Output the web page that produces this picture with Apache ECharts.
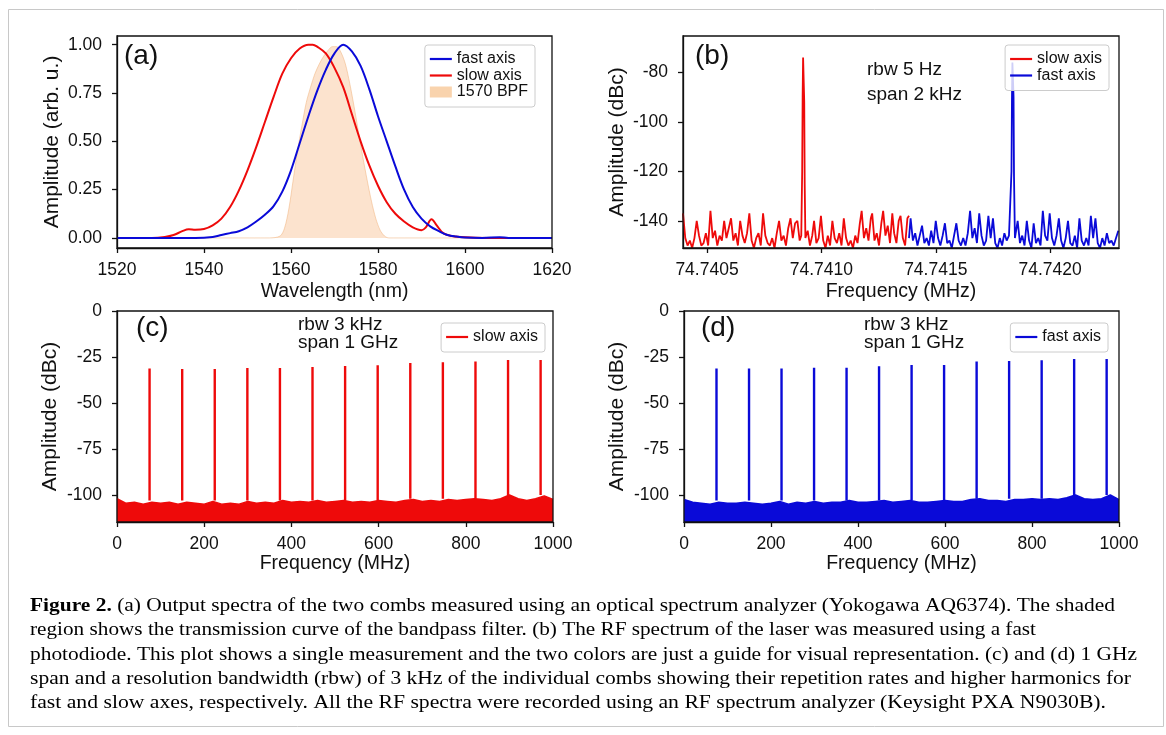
<!DOCTYPE html>
<html><head><meta charset="utf-8">
<script src="https://cdn.jsdelivr.net/npm/echarts@6/dist/echarts.min.js"></script>
<style>html,body{margin:0;padding:0;background:#fff}#c{width:1166px;height:735px}</style>
</head><body><div id="c"></div>
<script>
// ---------- (a) optical spectra: [wavelength nm, amplitude] ----------
const aFast = [[1520,0],[1530,0],[1538,0],[1542,0.005],[1544,0.015],[1546,0.025],[1548,0.035],[1550,0.055],[1552,0.085],[1554,0.12],[1556,0.165],[1558,0.24],[1560,0.35],[1562,0.49],[1564,0.63],[1566,0.76],[1568,0.87],[1570,0.955],[1572,1.0],[1574,0.965],[1576,0.89],[1578,0.77],[1580,0.63],[1582,0.5],[1584,0.37],[1586,0.25],[1588,0.16],[1590,0.1],[1592,0.06],[1594,0.035],[1596,0.015],[1598,0.007],[1600,0.002],[1604,0],[1608,0.004],[1610,0],[1620,0]];
const aSlow = [[1520,0],[1528,0],[1531,0.005],[1533,0.015],[1535,0.035],[1536.5,0.045],[1538,0.042],[1540,0.046],[1542,0.065],[1544,0.1],[1546,0.16],[1548,0.245],[1550,0.35],[1552,0.47],[1554,0.6],[1556,0.73],[1558,0.85],[1560,0.93],[1562,0.98],[1564,1.0],[1565,1.0],[1566,0.99],[1568,0.955],[1570,0.88],[1572,0.78],[1574,0.64],[1576,0.5],[1578,0.375],[1580,0.27],[1582,0.185],[1584,0.125],[1586,0.085],[1588,0.055],[1590,0.04],[1591,0.055],[1592.3,0.097],[1593.5,0.065],[1595,0.025],[1597,0.01],[1600,0.003],[1605,0],[1620,0]];
const aBpf = [[1520,0],[1555,0],[1557.5,0.01],[1558.5,0.05],[1559.5,0.15],[1560.5,0.3],[1561.5,0.45],[1562.5,0.58],[1563.5,0.7],[1564.5,0.78],[1565.5,0.85],[1566.5,0.9],[1567.5,0.94],[1568.5,0.97],[1569.5,0.99],[1570.5,0.99],[1571.5,0.96],[1572.5,0.9],[1573.5,0.8],[1574.5,0.68],[1575.5,0.55],[1576.5,0.42],[1577.5,0.3],[1578.5,0.19],[1579.5,0.1],[1580.5,0.04],[1581.5,0.01],[1582.5,0],[1620,0]];
const aYTicks = [0, 0.25, 0.5, 0.75, 1.0];

// ---------- (b) RF beat: [Hz above 74.7400 MHz, dBc] ----------
const bBaseMHz = 74.74;
const bXTicksHz = [500, 1000, 1500, 2000];
const bYTicks = [-140, -120, -100, -80];
const bSlow = [[395,-137],[405,-147],[415,-150],[425,-148],[435,-151],[445,-147],[455,-140],[465,-146],[475,-150],[485,-149],[495,-145],[505,-150],[515,-136],[525,-147],[535,-144],[545,-150],[555,-146],[565,-148],[575,-140],[585,-147],[595,-143],[605,-139],[615,-148],[625,-145],[635,-150],[645,-140],[655,-146],[665,-149],[675,-145],[685,-137],[695,-148],[705,-151],[715,-147],[725,-145],[735,-150],[745,-137],[755,-146],[765,-149],[775,-150],[785,-147],[795,-151],[805,-145],[815,-140],[825,-148],[835,-146],[845,-150],[855,-143],[865,-139],[875,-147],[885,-141],[895,-140],[905,-148],[912,-146],[916,-120],[918,-90],[920,-74],[923,-74],[925,-92],[927,-125],[930,-147],[940,-144],[950,-150],[960,-146],[968,-140],[978,-149],[988,-147],[998,-138],[1008,-148],[1018,-151],[1028,-146],[1038,-150],[1048,-140],[1058,-147],[1068,-149],[1078,-145],[1088,-150],[1098,-139],[1108,-147],[1118,-150],[1128,-148],[1138,-151],[1148,-146],[1158,-149],[1168,-141],[1176,-136],[1186,-147],[1196,-143],[1206,-148],[1216,-139],[1222,-137],[1232,-148],[1242,-145],[1252,-150],[1262,-141],[1270,-136],[1280,-146],[1290,-142],[1300,-149],[1310,-137],[1318,-145],[1328,-149],[1338,-140],[1346,-138],[1356,-147],[1366,-150],[1376,-139],[1383,-138]];
const bFast = [[1383,-147],[1390,-139],[1400,-148],[1410,-145],[1420,-150],[1430,-146],[1440,-142],[1450,-149],[1460,-147],[1470,-150],[1480,-144],[1490,-149],[1500,-140],[1510,-147],[1520,-150],[1530,-146],[1540,-141],[1550,-149],[1560,-148],[1570,-151],[1580,-146],[1590,-141],[1600,-148],[1610,-150],[1620,-147],[1630,-150],[1640,-145],[1650,-136],[1660,-147],[1670,-143],[1680,-149],[1690,-137],[1700,-146],[1710,-150],[1720,-148],[1730,-138],[1740,-147],[1750,-139],[1760,-149],[1770,-151],[1780,-147],[1790,-150],[1800,-145],[1810,-148],[1820,-146],[1826,-146],[1831,-120],[1833,-92],[1835,-76],[1838,-76],[1840,-90],[1842,-122],[1846,-147],[1850,-147],[1858,-140],[1868,-149],[1878,-146],[1888,-150],[1898,-140],[1908,-148],[1918,-151],[1928,-141],[1938,-149],[1948,-147],[1958,-150],[1968,-136],[1978,-146],[1988,-148],[1998,-137],[2008,-147],[2018,-150],[2028,-146],[2038,-139],[2048,-148],[2058,-151],[2068,-147],[2078,-140],[2088,-149],[2098,-150],[2108,-146],[2118,-151],[2128,-139],[2138,-148],[2148,-150],[2158,-147],[2168,-150],[2178,-138],[2188,-147],[2198,-139],[2208,-149],[2218,-151],[2228,-147],[2238,-150],[2248,-145],[2258,-149],[2268,-148],[2278,-150],[2288,-147],[2298,-144]];

// ---------- (c),(d) 1 GHz span: noise envelope [MHz, dBc], comb lines [MHz, floor dBc, top dBc] ----------
const cdYTicks = [-100, -75, -50, -25, 0];
const cNoise = [[0,-102],[20,-104.5],[40,-104],[60,-105],[80,-104],[100,-104.5],[120,-104],[140,-105],[160,-104],[180,-104.5],[200,-105],[220,-103.5],[240,-105],[260,-104.5],[280,-105],[300,-103.5],[320,-104.5],[340,-104],[360,-104.5],[380,-103],[400,-104],[420,-103.5],[440,-104],[460,-103],[480,-104],[500,-103.5],[520,-103],[540,-104],[560,-103.5],[580,-104],[600,-103],[620,-103.5],[640,-104],[660,-103],[680,-102.5],[700,-103.5],[720,-103],[740,-103.5],[760,-102.5],[780,-103],[800,-102.5],[820,-102],[840,-102.5],[860,-103],[880,-102],[900,-100],[920,-102],[940,-103],[960,-102],[980,-100.5],[1000,-102.5]];
const dNoise = [[0,-102.5],[20,-104],[40,-104.5],[60,-105],[80,-104],[100,-104.5],[120,-104.5],[140,-104],[160,-104.5],[180,-105],[200,-104.5],[220,-103.5],[240,-105],[260,-104],[280,-104.5],[300,-103.5],[320,-104.5],[340,-104],[360,-104],[380,-103],[400,-104],[420,-104],[440,-103.5],[460,-103],[480,-104],[500,-103.5],[520,-103],[540,-104],[560,-104],[580,-103.5],[600,-103],[620,-103.5],[640,-103.5],[660,-102.5],[680,-102],[700,-103],[720,-103],[740,-103.5],[760,-102.5],[780,-102.5],[800,-102],[820,-102.5],[840,-102],[860,-102.5],[880,-101.5],[900,-100],[920,-102],[940,-102.5],[960,-102],[980,-100],[1000,-102.5]];
const cLines = [[74.7,-103,-31.2],[149.5,-103,-31.5],[224.2,-103,-31.5],[299.0,-103,-31.0],[373.7,-103,-31.0],[448.4,-103,-30.4],[523.2,-103,-29.9],[597.9,-103,-29.5],[672.7,-102,-28.2],[747.4,-102,-27.8],[822.2,-102,-27.4],[896.9,-100,-26.6],[971.6,-100,-26.6]];
const dLines = [[74.7,-103,-31.2],[149.5,-103,-31.3],[224.2,-103,-31.3],[299.0,-103,-30.8],[373.7,-103,-30.8],[448.4,-103,-30.1],[523.2,-103,-29.3],[597.9,-103,-29.3],[672.7,-102,-27.5],[747.4,-102,-27.2],[822.2,-102,-26.8],[896.9,-100,-26.1],[971.6,-100,-26.1]];

const RED = '#ee0a0a', BLUE = '#0a0ad8', INK = '#111';
const FONT = '"Liberation Sans", Arial, sans-serif';
const LINE_ICON = 'path://M0,0L22,0L22,2.2L0,2.2Z';

// vertical comb-line segments, separated by gaps
function combSegments(lines) {
  const pts = [];
  lines.forEach(l => { pts.push([l[0], l[1]], [l[0], l[2]], [l[0], '-']); });
  return pts;
}

const plain = v => String(v);
const tickStyle = { show: true, length: 5, inside: false, lineStyle: { color: INK, width: 1.3 } };
const lblStyle = { color: INK, fontSize: 17.5, fontFamily: FONT };
function xAxis(gi, o) {
  return Object.assign({ gridIndex: gi, type: 'value', splitLine: { show: false },
    axisLine: { show: true, onZero: false, lineStyle: { color: INK, width: 1.3 } },
    axisTick: Object.assign({}, tickStyle), nameLocation: 'middle',
    nameTextStyle: { color: INK, fontSize: 19.5, fontFamily: FONT } }, o);
}
function yAxis(gi, o) {
  return Object.assign({ gridIndex: gi, type: 'value', splitLine: { show: false },
    axisLine: { show: true, onZero: false, lineStyle: { color: INK, width: 1.3 } },
    axisTick: Object.assign({}, tickStyle), nameLocation: 'middle', nameRotate: 90,
    nameTextStyle: { color: INK, fontSize: 21, fontFamily: FONT } }, o);
}
const legendBase = { orient: 'vertical', selectedMode: false, itemWidth: 22, itemHeight: 11, itemGap: 0.5,
  padding: [6, 7, 7, 5], backgroundColor: 'rgba(255,255,255,0.8)', borderColor: '#cccccc', borderWidth: 1, borderRadius: 3,
  textStyle: { color: INK, fontSize: 16, fontFamily: FONT, lineHeight: 15 } };

// caption
const capLines = [
  ['Figure 2.', ' (a) Output spectra of the two combs measured using an optical spectrum analyzer (Yokogawa AQ6374). The shaded', 1115],
  ['', 'region shows the transmission curve of the bandpass filter. (b) The RF spectrum of the laser was measured using a fast', 1036],
  ['', 'photodiode. This plot shows a single measurement and the two colors are just a guide for visual representation. (c) and (d) 1 GHz', 1137],
  ['', 'span and a resolution bandwidth (rbw) of 3 kHz of the individual combs showing their repetition rates and higher harmonics for', 1131],
  ['', 'fast and slow axes, respectively. All the RF spectra were recorded using an RF spectrum analyzer (Keysight PXA N9030B).', 1106]
];
const CAP_FONT = '"Liberation Serif", "DejaVu Serif", serif';
const CAP_SIZE = 19.5, CAP_X = 30, CAP_Y0 = 606, CAP_PITCH = 24.3;
const ctx = document.createElement('canvas').getContext('2d');
function measure(t, bold) { ctx.font = (bold ? 'bold ' : '') + CAP_SIZE + 'px ' + CAP_FONT; return ctx.measureText(t).width; }
const capGraphics = capLines.map((l, i) => {
  const w = measure(l[0], true) + measure(l[1], false);
  return { type: 'text', x: CAP_X, y: CAP_Y0 + i * CAP_PITCH, scaleX: (l[2] - CAP_X) / w,
    style: { text: (l[0] ? '{b|' + l[0] + '}' : '') + l[1], fill: '#000', fontSize: CAP_SIZE, fontFamily: CAP_FONT,
      verticalAlign: 'middle', align: 'left', rich: { b: { fontWeight: 'bold', fontSize: CAP_SIZE, fontFamily: CAP_FONT } } } };
});

function txt(x, y, t, size, lh) {
  return { type: 'text', x: x, y: y, z: 50, style: { text: t, fill: INK, fontSize: size, fontFamily: FONT,
    lineHeight: lh || size, verticalAlign: 'middle', align: 'left' } };
}

const chart = echarts.init(document.getElementById('c'), null, { renderer: 'canvas' });
chart.setOption({
  animation: false,
  backgroundColor: '#fff',
  grid: [
    { left: 117, top: 36, width: 435, height: 212 },
    { left: 683, top: 36, width: 436, height: 212 },
    { left: 117, top: 311, width: 436, height: 211 },
    { left: 684, top: 311, width: 435, height: 211 }
  ].map(g => Object.assign({ show: true, borderColor: INK, borderWidth: 1.3, backgroundColor: 'transparent', z: 10 }, g)),
  xAxis: [
    xAxis(0, { min: 1520, max: 1620, interval: 20, name: 'Wavelength (nm)', nameGap: 34, axisLabel: Object.assign({ margin: 13, formatter: plain }, lblStyle) }),
    xAxis(1, { min: 395, max: 2301, name: 'Frequency (MHz)', nameGap: 34,
      axisLabel: Object.assign({ margin: 13, customValues: bXTicksHz, formatter: v => (bBaseMHz + v / 1e6).toFixed(4) }, lblStyle),
      axisTick: Object.assign({ customValues: bXTicksHz }, tickStyle) }),
    xAxis(2, { min: 0, max: 1000, interval: 200, name: 'Frequency (MHz)', nameGap: 31, axisLabel: Object.assign({ margin: 13, formatter: plain }, lblStyle) }),
    xAxis(3, { min: 0, max: 1000, interval: 200, name: 'Frequency (MHz)', nameGap: 31, axisLabel: Object.assign({ margin: 13, formatter: plain }, lblStyle) })
  ],
  yAxis: [
    yAxis(0, { min: -0.052, max: 1.045, name: 'Amplitude (arb. u.)', nameGap: 54,
      axisLabel: Object.assign({ margin: 15, customValues: aYTicks, formatter: v => v.toFixed(2) }, lblStyle),
      axisTick: Object.assign({ customValues: aYTicks }, tickStyle) }),
    yAxis(1, { min: -151, max: -65.3, name: 'Amplitude (dBc)', nameGap: 55,
      axisLabel: Object.assign({ margin: 15, customValues: bYTicks, formatter: plain }, lblStyle),
      axisTick: Object.assign({ customValues: bYTicks }, tickStyle) }),
    yAxis(2, { min: -114.7, max: 0, name: 'Amplitude (dBc)', nameGap: 56,
      axisLabel: Object.assign({ margin: 15, customValues: cdYTicks, formatter: plain }, lblStyle),
      axisTick: Object.assign({ customValues: cdYTicks }, tickStyle) }),
    yAxis(3, { min: -114.7, max: 0, name: 'Amplitude (dBc)', nameGap: 56,
      axisLabel: Object.assign({ margin: 15, customValues: cdYTicks, formatter: plain }, lblStyle),
      axisTick: Object.assign({ customValues: cdYTicks }, tickStyle) })
  ],
  legend: [
    Object.assign({}, legendBase, { right: 1166 - 535, top: 45,
      data: [{ name: 'fast axis', icon: LINE_ICON }, { name: 'slow axis', icon: LINE_ICON }, { name: '1570 BPF', icon: 'rect' }] }),
    Object.assign({}, legendBase, { right: 1166 - 1109, top: 45,
      data: [{ name: 'slow axis', icon: LINE_ICON }, { name: 'fast axis', icon: LINE_ICON }] }),
    Object.assign({}, legendBase, { right: 1166 - 545, top: 323, data: [{ name: 'slow axis', icon: LINE_ICON }] }),
    Object.assign({}, legendBase, { right: 1166 - 1108, top: 323, data: [{ name: 'fast axis', icon: LINE_ICON }] })
  ],
  series: [
    { name: '1570 BPF', type: 'line', xAxisIndex: 0, yAxisIndex: 0, data: aBpf, symbol: 'none', smooth: 0.3, z: 1,
      itemStyle: { color: '#f9d3ad' }, lineStyle: { color: 'rgba(240,175,120,0.5)', width: 1 },
      areaStyle: { color: 'rgba(246,183,128,0.55)', origin: 'auto' } },
    { name: 'fast axis', type: 'line', xAxisIndex: 0, yAxisIndex: 0, data: aFast, symbol: 'none', smooth: 0.35, z: 3,
      itemStyle: { color: BLUE }, lineStyle: { color: BLUE, width: 2 } },
    { name: 'slow axis', type: 'line', xAxisIndex: 0, yAxisIndex: 0, data: aSlow, symbol: 'none', smooth: 0.35, z: 2,
      itemStyle: { color: RED }, lineStyle: { color: RED, width: 2 } },
    { name: 'slow axis', type: 'line', xAxisIndex: 1, yAxisIndex: 1, data: bSlow, symbol: 'none',
      itemStyle: { color: RED }, lineStyle: { color: RED, width: 1.8 } },
    { name: 'fast axis', type: 'line', xAxisIndex: 1, yAxisIndex: 1, data: bFast, symbol: 'none',
      itemStyle: { color: BLUE }, lineStyle: { color: BLUE, width: 1.8 } },
    { name: 'slow axis', type: 'line', xAxisIndex: 2, yAxisIndex: 2, data: cNoise, symbol: 'none',
      itemStyle: { color: RED }, lineStyle: { color: RED, width: 1.5 }, areaStyle: { color: RED, opacity: 1, origin: 'start' } },
    { name: 'slow axis', type: 'line', xAxisIndex: 2, yAxisIndex: 2, data: combSegments(cLines), symbol: 'none', connectNulls: false,
      itemStyle: { color: RED }, lineStyle: { color: RED, width: 2.4 } },
    { name: 'fast axis', type: 'line', xAxisIndex: 3, yAxisIndex: 3, data: dNoise, symbol: 'none',
      itemStyle: { color: BLUE }, lineStyle: { color: BLUE, width: 1.5 }, areaStyle: { color: BLUE, opacity: 1, origin: 'start' } },
    { name: 'fast axis', type: 'line', xAxisIndex: 3, yAxisIndex: 3, data: combSegments(dLines), symbol: 'none', connectNulls: false,
      itemStyle: { color: BLUE }, lineStyle: { color: BLUE, width: 2.4 } }
  ],
  graphic: [
    { type: 'rect', shape: { x: 8.5, y: 9.5, width: 1155, height: 717 }, style: { fill: 'none', stroke: '#c8c8c8', lineWidth: 1 }, z: 0 },
    txt(124, 56, '(a)', 28), txt(695, 56, '(b)', 28), txt(136, 328, '(c)', 28), txt(701, 328, '(d)', 28),
    txt(867, 82.5, 'rbw 5 Hz\nspan 2 kHz', 19, 25),
    txt(298, 334, 'rbw 3 kHz\nspan 1 GHz', 19, 18),
    txt(864, 334, 'rbw 3 kHz\nspan 1 GHz', 19, 18)
  ].concat(capGraphics)
});
</script></body></html>
